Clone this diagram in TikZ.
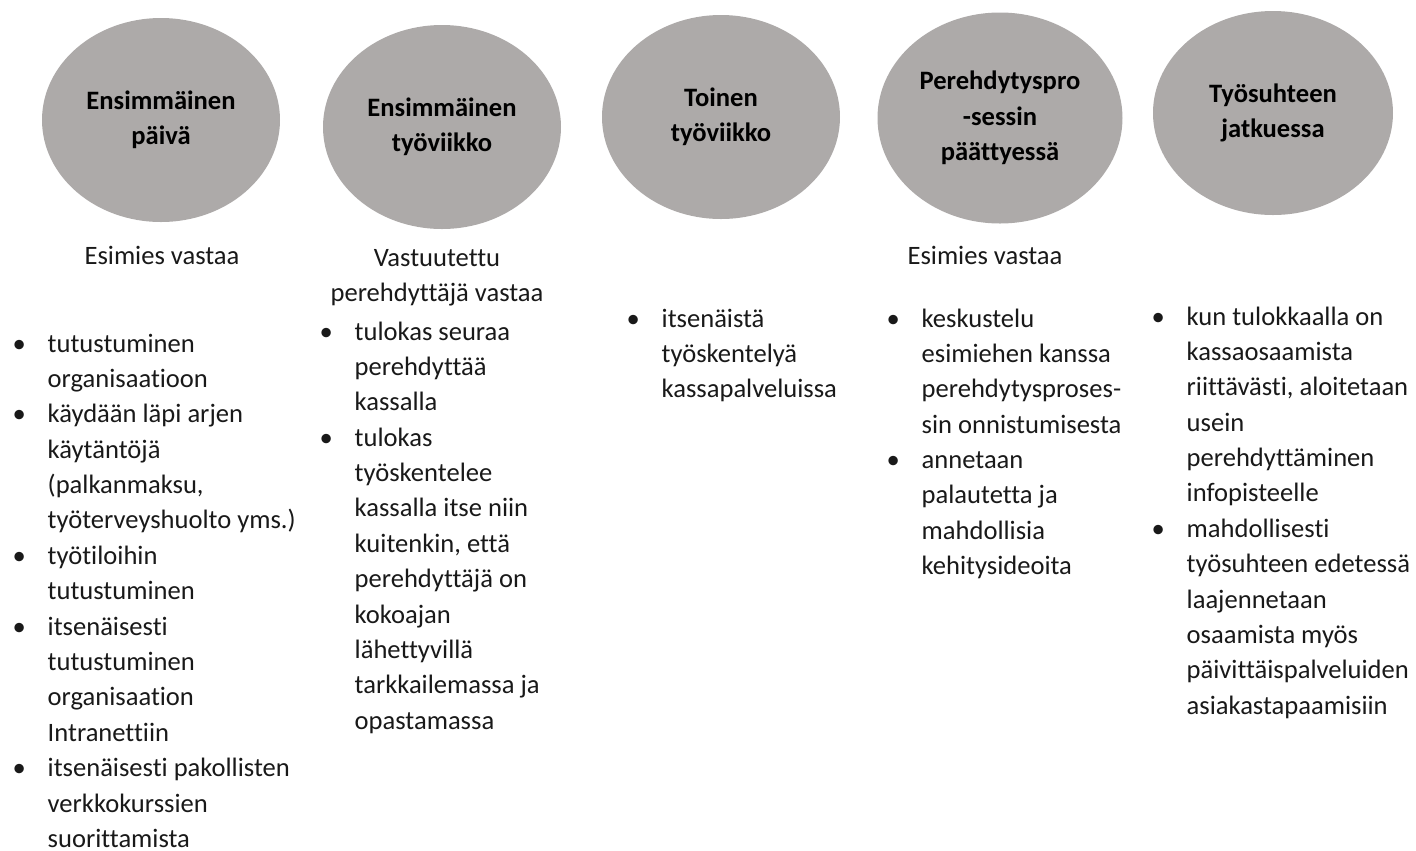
\documentclass[tikz,border=0pt]{standalone}
\usepackage{fontspec}
\setmainfont{Carlito}[Ligatures=NoCommon]
\usetikzlibrary{shapes.geometric}
\definecolor{phasegray}{RGB}{173,170,169}
\definecolor{inktext}{RGB}{25,25,25}
\newcommand{\bodyfont}{\fontsize{7.56}{10.07}\selectfont}
\newcommand{\itm}{\makebox[0.35cm][l]{\textbullet}}
\newcommand{\cnt}{\hspace*{0.35cm}}
\tikzset{
  phase/.style={ellipse, fill=phasegray, draw=none, minimum width=2.38cm,
    minimum height=2.04cm, inner sep=0pt, align=center, text=black,
    font=\bfseries\bodyfont},
  resp/.style={anchor=base, inner sep=0pt, text=inktext, font=\bodyfont},
  tasks/.style={anchor=base west, inner sep=0pt, text=inktext, font=\bodyfont}
}
\begin{document}
\begin{tikzpicture}
\useasboundingbox (0,0) rectangle (14.16,-8.51);
% vaiheet
\node[phase] (day1) at (1.61,-1.20) {Ensimmäinen\\päivä};
\node[phase] (week1) at (4.42,-1.27) {Ensimmäinen\\työviikko};
\node[phase] (week2) at (7.21,-1.17) {Toinen\\työviikko};
\node[phase, minimum width=2.45cm, minimum height=2.11cm] (ending) at (10.00,-1.18) {Perehdytyspro\\-sessin\\päättyessä};
\node[phase, minimum width=2.40cm] (later) at (12.73,-1.13) {Työsuhteen\\jatkuessa};
% vastuut
\node[resp] (resp1) at (1.62,-2.64) {Esimies vastaa};
\node[resp] (resp2) at (4.37,-2.66) {\begin{tabular}[t]{@{}c@{}}Vastuutettu\\perehdyttäjä vastaa\end{tabular}};
\node[resp] (resp4) at (9.85,-2.64) {Esimies vastaa};
% tehtävät
\node[tasks] (list1) at (0.12,-3.52) {\begin{tabular}[t]{@{}l@{}}
\itm tutustuminen\\
\cnt organisaatioon\\
\itm käydään läpi arjen\\
\cnt käytäntöjä\\
\cnt (palkanmaksu,\\
\cnt työterveyshuolto yms.)\\
\itm työtiloihin\\
\cnt tutustuminen\\
\itm itsenäisesti\\
\cnt tutustuminen\\
\cnt organisaation\\
\cnt Intranettiin\\
\itm itsenäisesti pakollisten\\
\cnt verkkokurssien\\
\cnt suorittamista
\end{tabular}};
\node[tasks] (list2) at (3.19,-3.40) {\begin{tabular}[t]{@{}l@{}}
\itm tulokas seuraa\\
\cnt perehdyttää\\
\cnt kassalla\\
\itm tulokas\\
\cnt työskentelee\\
\cnt kassalla itse niin\\
\cnt kuitenkin, että\\
\cnt perehdyttäjä on\\
\cnt kokoajan\\
\cnt lähettyvillä\\
\cnt tarkkailemassa ja\\
\cnt opastamassa
\end{tabular}};
\node[tasks] (list3) at (6.26,-3.27) {\begin{tabular}[t]{@{}l@{}}
\itm itsenäistä\\
\cnt työskentelyä\\
\cnt kassapalveluissa
\end{tabular}};
\node[tasks] (list4) at (8.86,-3.27) {\begin{tabular}[t]{@{}l@{}}
\itm keskustelu\\
\cnt esimiehen kanssa\\
\cnt perehdytysproses-\\
\cnt sin onnistumisesta\\
\itm annetaan\\
\cnt palautetta ja\\
\cnt mahdollisia\\
\cnt kehitysideoita
\end{tabular}};
\node[tasks] (list5) at (11.51,-3.25) {\begin{tabular}[t]{@{}l@{}}
\itm kun tulokkaalla on\\
\cnt kassaosaamista\\
\cnt riittävästi, aloitetaan\\
\cnt usein\\
\cnt perehdyttäminen\\
\cnt infopisteelle\\
\itm mahdollisesti\\
\cnt työsuhteen edetessä\\
\cnt laajennetaan\\
\cnt osaamista myös\\
\cnt päivittäispalveluiden\\
\cnt asiakastapaamisiin
\end{tabular}};
\end{tikzpicture}
\end{document}
